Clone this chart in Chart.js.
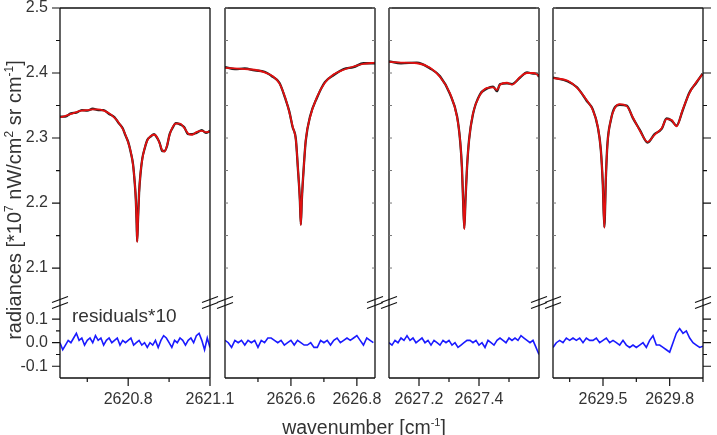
<!DOCTYPE html>
<html>
<head>
<meta charset="utf-8">
<script src="https://cdn.jsdelivr.net/npm/chart.js"></script>
<style>
  body { margin: 0; background: #fff; }
  #wrap { position: relative; width: 717px; height: 435px; }
  #wrap canvas { position: absolute; left: 0; top: 0; }
</style>
</head>
<body>
<div id="wrap">
  <canvas id="p1" width="717" height="435"></canvas>
  <canvas id="p2" width="717" height="435"></canvas>
  <canvas id="p3" width="717" height="435"></canvas>
  <canvas id="p4" width="717" height="435"></canvas>
</div>
<script>
// ---- data ----
// panel 1
const wn1 = [2620.550,2620.570,2620.590,2620.610,2620.630,2620.650,2620.670,2620.690,2620.710,2620.730,2620.750,2620.765,2620.780,2620.790,2620.800,2620.810,2620.818,2620.824,2620.828,2620.831,2620.833,2620.836,2620.840,2620.845,2620.852,2620.860,2620.870,2620.882,2620.895,2620.905,2620.915,2620.925,2620.933,2620.942,2620.952,2620.962,2620.975,2620.990,2621.005,2621.020,2621.035,2621.050,2621.070,2621.085,2621.100];
const fit1 = [2.332,2.334,2.337,2.340,2.342,2.343,2.344,2.344,2.342,2.338,2.331,2.324,2.314,2.305,2.293,2.278,2.258,2.232,2.205,2.170,2.140,2.175,2.215,2.245,2.268,2.284,2.296,2.303,2.305,2.302,2.292,2.281,2.279,2.288,2.305,2.316,2.322,2.322,2.316,2.307,2.305,2.309,2.311,2.309,2.310];
const meas1 = [2.333,2.333,2.338,2.339,2.343,2.342,2.345,2.343,2.343,2.337,2.332,2.323,2.315,2.304,2.294,2.277,2.259,2.231,2.206,2.169,2.141,2.174,2.216,2.244,2.269,2.283,2.297,2.302,2.306,2.301,2.293,2.280,2.280,2.287,2.306,2.315,2.323,2.321,2.317,2.306,2.306,2.308,2.312,2.308,2.311];
const resWn1 = [2620.55,2620.56,2620.57,2620.58,2620.59,2620.60,2620.61,2620.62,2620.63,2620.64,2620.65,2620.66,2620.67,2620.68,2620.69,2620.70,2620.71,2620.72,2620.73,2620.74,2620.75,2620.76,2620.77,2620.78,2620.79,2620.80,2620.81,2620.82,2620.83,2620.84,2620.85,2620.86,2620.87,2620.88,2620.89,2620.90,2620.91,2620.92,2620.93,2620.94,2620.95,2620.96,2620.97,2620.98,2620.99,2621.00,2621.01,2621.02,2621.03,2621.04,2621.05,2621.06,2621.07,2621.08,2621.09,2621.10];
const res1 = [0.00,-0.03,-0.01,0.01,0.00,0.02,0.04,0.01,0.02,-0.01,0.01,0.02,0.00,0.03,0.01,0.02,-0.01,0.01,0.02,0.00,0.01,0.02,-0.01,0.01,0.00,0.01,0.02,-0.01,0.00,0.01,-0.01,0.00,-0.02,0.00,-0.01,0.01,-0.02,0.01,0.03,0.02,0.00,-0.02,0.01,0.00,0.02,0.01,-0.01,0.01,0.02,0.00,0.03,0.04,0.01,-0.03,0.02,-0.02];

// panel 2
const wn2 = [2626.400,2626.430,2626.460,2626.490,2626.520,2626.545,2626.565,2626.582,2626.595,2626.605,2626.615,2626.621,2626.627,2626.630,2626.633,2626.639,2626.645,2626.658,2626.679,2626.703,2626.730,2626.760,2626.790,2626.820,2626.855];
const fit2 = [2.408,2.407,2.406,2.405,2.401,2.395,2.384,2.363,2.340,2.318,2.297,2.255,2.205,2.166,2.205,2.255,2.297,2.332,2.363,2.385,2.398,2.405,2.410,2.414,2.416];
const meas2 = [2.409,2.406,2.407,2.404,2.402,2.394,2.385,2.362,2.341,2.317,2.298,2.254,2.206,2.167,2.204,2.256,2.296,2.333,2.362,2.386,2.397,2.406,2.409,2.415,2.415];
const resWn2 = [2626.40,2626.41,2626.42,2626.43,2626.44,2626.45,2626.46,2626.47,2626.48,2626.49,2626.50,2626.51,2626.52,2626.53,2626.54,2626.55,2626.56,2626.57,2626.58,2626.59,2626.60,2626.61,2626.62,2626.63,2626.64,2626.65,2626.66,2626.67,2626.68,2626.69,2626.70,2626.71,2626.72,2626.73,2626.74,2626.75,2626.76,2626.77,2626.78,2626.79,2626.80,2626.81,2626.82,2626.83,2626.84,2626.85];
const res2 = [0.01,0.00,-0.02,0.01,0.00,0.01,-0.01,0.01,0.00,0.01,-0.02,0.01,0.00,0.02,0.02,0.01,0.00,0.01,-0.01,0.00,0.01,-0.01,0.01,0.00,-0.01,-0.01,0.00,-0.02,-0.02,0.01,0.00,0.01,-0.01,0.01,0.02,0.00,0.01,0.02,0.01,0.02,0.03,0.01,-0.01,0.02,0.01,0.00];

// panel 3
const wn3 = [2627.100,2627.140,2627.193,2627.237,2627.270,2627.303,2627.327,2627.337,2627.343,2627.347,2627.351,2627.355,2627.360,2627.367,2627.380,2627.403,2627.427,2627.447,2627.460,2627.470,2627.493,2627.510,2627.537,2627.560,2627.580,2627.593,2627.600];
const fit3 = [2.417,2.416,2.415,2.408,2.394,2.369,2.332,2.297,2.255,2.205,2.160,2.205,2.255,2.297,2.338,2.366,2.377,2.378,2.374,2.382,2.385,2.382,2.394,2.400,2.400,2.398,2.395];
const meas3 = [2.418,2.415,2.416,2.407,2.395,2.368,2.333,2.296,2.256,2.204,2.161,2.206,2.254,2.298,2.337,2.367,2.376,2.379,2.372,2.383,2.384,2.383,2.393,2.401,2.399,2.399,2.394];
const resWn3 = [2627.10,2627.11,2627.12,2627.13,2627.14,2627.15,2627.16,2627.17,2627.18,2627.19,2627.20,2627.21,2627.22,2627.23,2627.24,2627.25,2627.26,2627.27,2627.28,2627.29,2627.30,2627.31,2627.32,2627.33,2627.34,2627.35,2627.36,2627.37,2627.38,2627.39,2627.40,2627.41,2627.42,2627.43,2627.44,2627.45,2627.46,2627.47,2627.48,2627.49,2627.50,2627.51,2627.52,2627.53,2627.54,2627.55,2627.56,2627.57,2627.58,2627.59,2627.60];
const res3 = [0.00,-0.01,0.01,0.00,0.02,0.01,0.03,0.01,0.02,0.00,0.01,0.02,0.00,0.01,-0.01,0.01,0.00,-0.01,0.01,0.00,0.01,-0.01,0.00,-0.02,-0.01,0.00,0.01,0.01,0.00,0.01,-0.01,0.00,-0.02,0.01,0.00,-0.01,0.01,0.02,0.01,0.00,0.02,0.01,0.02,0.01,0.03,0.02,0.01,0.00,0.01,-0.02,-0.05];

// panel 4
const wn4 = [2629.275,2629.342,2629.383,2629.427,2629.454,2629.477,2629.490,2629.499,2629.506,2629.513,2629.520,2629.535,2629.553,2629.575,2629.607,2629.634,2629.665,2629.701,2629.732,2629.764,2629.786,2629.808,2629.831,2629.858,2629.889,2629.920,2629.948];
const fit4 = [2.392,2.388,2.377,2.358,2.343,2.317,2.282,2.231,2.162,2.240,2.290,2.328,2.346,2.352,2.349,2.332,2.312,2.294,2.305,2.315,2.329,2.328,2.318,2.343,2.369,2.386,2.398];
const meas4 = [2.393,2.387,2.378,2.357,2.344,2.316,2.283,2.230,2.163,2.239,2.291,2.327,2.347,2.351,2.350,2.331,2.313,2.293,2.306,2.314,2.330,2.327,2.319,2.342,2.370,2.385,2.399];
const resWn4 = [2629.275,2629.290,2629.305,2629.320,2629.335,2629.350,2629.365,2629.380,2629.395,2629.410,2629.425,2629.440,2629.455,2629.470,2629.485,2629.500,2629.515,2629.530,2629.545,2629.560,2629.575,2629.590,2629.605,2629.620,2629.635,2629.650,2629.665,2629.680,2629.695,2629.710,2629.725,2629.740,2629.755,2629.770,2629.785,2629.800,2629.815,2629.830,2629.845,2629.860,2629.875,2629.890,2629.905,2629.920,2629.935,2629.950];
const res4 = [-0.02,0.00,0.01,0.00,0.02,0.01,0.02,0.01,0.02,0.00,0.02,0.01,0.01,0.02,0.00,0.01,0.02,0.00,0.01,0.00,-0.01,0.01,-0.01,-0.02,-0.01,-0.02,-0.01,0.00,-0.02,0.01,0.03,-0.01,-0.01,-0.02,-0.03,-0.04,0.00,0.04,0.06,0.04,0.05,0.02,0.00,-0.01,-0.02,-0.015];

// tick labels
const xMajor1 = [2620.8, 2621.1], xMinor1 = [2620.65, 2620.95];
const xMajor2 = [2626.6, 2626.8], xMinor2 = [2626.5, 2626.7];
const xMajor3 = [2627.2, 2627.4], xMinor3 = [2627.3, 2627.5];
const xMajor4 = [2629.5, 2629.8], xMinor4 = [2629.35, 2629.65, 2629.95];
const yMajorUp = [2.1, 2.2, 2.3, 2.4, 2.5], yMinorUp = [2.15, 2.25, 2.35, 2.45];
const yMajorRes = [-0.1, 0.0, 0.1], yMinorRes = [-0.05, 0.05];

const W = 717, H = 435, TOP = 8, BOTTOM = 378;
const FONT = "'Liberation Sans', Arial, sans-serif";
const TXT = '#333';

const panels = [
  {id:'p1', left:60,  right:210, xMin:2620.55,  xMax:2621.1,   wn:wn1, fit:fit1, meas:meas1, rx:resWn1, res:res1, xMajor:xMajor1, xMinor:xMinor1, first:true},
  {id:'p2', left:225, right:375, xMin:2626.4,   xMax:2626.855, wn:wn2, fit:fit2, meas:meas2, rx:resWn2, res:res2, xMajor:xMajor2, xMinor:xMinor2, innerL:true, innerR:true},
  {id:'p3', left:389, right:539, xMin:2627.1,   xMax:2627.6,   wn:wn3, fit:fit3, meas:meas3, rx:resWn3, res:res3, xMajor:xMajor3, xMinor:xMinor3, innerL:true, innerR:true},
  {id:'p4', left:553, right:703, xMin:2629.275, xMax:2629.95,  wn:wn4, fit:fit4, meas:meas4, rx:resWn4, res:res4, xMajor:xMajor4, xMinor:xMinor4, innerL:true, last:true}
];

function supText(ctx, parts, x, y, big, small) {
  // parts: [text, isSup]
  let w = 0;
  parts.forEach(([t, s]) => { ctx.font = (s ? small : big) + 'px ' + FONT; w += ctx.measureText(t).width; });
  let cx = x - w / 2;
  parts.forEach(([t, s]) => {
    ctx.font = (s ? small : big) + 'px ' + FONT;
    ctx.fillText(t, cx, s ? y - big * 0.42 : y);
    cx += ctx.measureText(t).width;
  });
}

const framePlugin = {
  id: 'frame',
  afterDraw(chart) {
    const p = chart.options.plugins.frame;
    const ctx = chart.ctx;
    const a = chart.chartArea;
    const yUp = chart.scales.yUp, yRes = chart.scales.yRes, x = chart.scales.x;
    const yb = yUp.bottom;
    ctx.save();
    ctx.strokeStyle = '#111';
    ctx.lineWidth = 1.3;
    ctx.beginPath();
    ctx.moveTo(a.left, a.top); ctx.lineTo(a.right, a.top);
    ctx.moveTo(a.left, a.bottom); ctx.lineTo(a.right, a.bottom);
    ctx.moveTo(a.left, a.top); ctx.lineTo(a.left, a.bottom);
    ctx.moveTo(a.right, a.top); ctx.lineTo(a.right, a.bottom);
    ctx.stroke();

    // x ticks
    ctx.lineWidth = 1.2;
    ctx.beginPath();
    p.xMajor.forEach(v => { const px = x.getPixelForValue(v); ctx.moveTo(px, a.bottom); ctx.lineTo(px, a.bottom + 8); });
    p.xMinor.forEach(v => { const px = x.getPixelForValue(v); ctx.moveTo(px, a.bottom); ctx.lineTo(px, a.bottom + 4); });
    ctx.stroke();

    // outer y ticks (panel 1 left, panel 4 right)
    const outer = (ex, dir) => {
      ctx.beginPath();
      yMajorUp.forEach(v => { const py = yUp.getPixelForValue(v); ctx.moveTo(ex, py); ctx.lineTo(ex + dir * 8, py); });
      yMinorUp.forEach(v => { const py = yUp.getPixelForValue(v); ctx.moveTo(ex, py); ctx.lineTo(ex + dir * 4, py); });
      yMajorRes.forEach(v => { const py = yRes.getPixelForValue(v); ctx.moveTo(ex, py); ctx.lineTo(ex + dir * 8, py); });
      yMinorRes.forEach(v => { const py = yRes.getPixelForValue(v); ctx.moveTo(ex, py); ctx.lineTo(ex + dir * 4, py); });
      ctx.stroke();
    };
    if (p.first) outer(a.left, -1);
    if (p.last) outer(a.right, 1);

    // small inward ticks on inner edges
    const inner = (ex, dir) => {
      ctx.save();
      ctx.strokeStyle = '#777';
      ctx.lineWidth = 1;
      ctx.beginPath();
      yMajorUp.concat(yMinorUp).forEach(v => { const py = yUp.getPixelForValue(v); ctx.moveTo(ex, py); ctx.lineTo(ex + dir * 3, py); });
      ctx.stroke();
      ctx.restore();
    };
    if (p.innerL) inner(a.left, 1);
    if (p.innerR) inner(a.right, -1);

    // axis break marks
    const brk = (ex) => {
      ctx.save();
      ctx.strokeStyle = '#111';
      ctx.lineWidth = 1.2;
      ctx.beginPath();
      [-3, 3].forEach(d => { ctx.moveTo(ex - 8, yb + d + 3); ctx.lineTo(ex + 8, yb + d - 3); });
      ctx.stroke();
      ctx.restore();
    };
    brk(a.left); brk(a.right);

    if (p.first) {
      ctx.fillStyle = TXT;
      ctx.textBaseline = 'middle';
      ctx.textAlign = 'left';
      ctx.font = '19px ' + FONT;
      ctx.fillText('residuals*10', 72, 317);
      ctx.textBaseline = 'alphabetic';
      supText(ctx, [['wavenumber [cm', false], ['-1', true], [']', false]], 364, 434, 19.5, 11);
      ctx.translate(21, 200);
      ctx.rotate(-Math.PI / 2);
      supText(ctx, [['radiances [*10', false], ['7', true], [' nW/cm', false], ['2', true], [' sr cm', false], ['-1', true], [']', false]], 0, 0, 20, 12);
    }
    ctx.restore();
  }
};

function makePanel(p) {
  const yw = p.first ? 60 : 0;
  const pts = (xs, ys) => xs.map((v, i) => ({x: v, y: ys[i]}));
  const yAxis = (min, max, weight, ticks) => ({
    type: 'linear', position: 'left', stack: 'y', stackWeight: weight,
    min: min, max: max,
    grid: {display: false, drawTicks: false},
    border: {display: false},
    afterBuildTicks: s => { s.ticks = ticks.map(v => ({value: v})); },
    ticks: {display: !!p.first, autoSkip: false, padding: 12, color: TXT, font: {size: 16, family: FONT}, callback: v => v.toFixed(1)},
    afterFit: s => { s.width = yw; s.paddingTop = 0; s.paddingBottom = 0; }
  });
  return new Chart(document.getElementById(p.id), {
    type: 'line',
    data: {
      datasets: [
        // first dataset is drawn on top
        {label: 'fit', data: pts(p.wn, p.fit), yAxisID: 'yUp', borderColor: 'rgb(226,16,16)', borderWidth: 1.8, pointRadius: 0, cubicInterpolationMode: 'monotone'},
        {label: 'measured', data: pts(p.wn, p.meas), yAxisID: 'yUp', borderColor: '#222', borderWidth: 2.3, pointRadius: 0, cubicInterpolationMode: 'monotone'},
        {label: 'residuals*10', data: pts(p.rx, p.res), yAxisID: 'yRes', borderColor: '#1a1aff', borderWidth: 1.6, pointRadius: 0, tension: 0}
      ]
    },
    options: {
      responsive: false,
      animation: false,
      layout: {padding: {left: p.left - yw, right: W - p.right, top: TOP, bottom: 0}},
      plugins: {legend: {display: false}, tooltip: {enabled: false}, frame: p},
      scales: {
        x: {
          type: 'linear', min: p.xMin, max: p.xMax,
          grid: {display: false, drawTicks: false},
          border: {display: false},
          afterBuildTicks: s => { s.ticks = p.xMajor.map(v => ({value: v})); },
          ticks: {padding: 12, color: TXT, font: {size: 16, family: FONT}, maxRotation: 0, autoSkip: false, callback: v => v.toFixed(1)},
          afterFit: s => { s.height = H - BOTTOM; s.paddingLeft = 0; s.paddingRight = 0; }
        },
        yRes: yAxis(-0.15, 0.171, 75.5, yMajorRes),
        yUp: yAxis(2.047, 2.5, 294.5, yMajorUp)
      }
    },
    plugins: [framePlugin]
  });
}

panels.forEach(makePanel);
</script>
</body>
</html>
